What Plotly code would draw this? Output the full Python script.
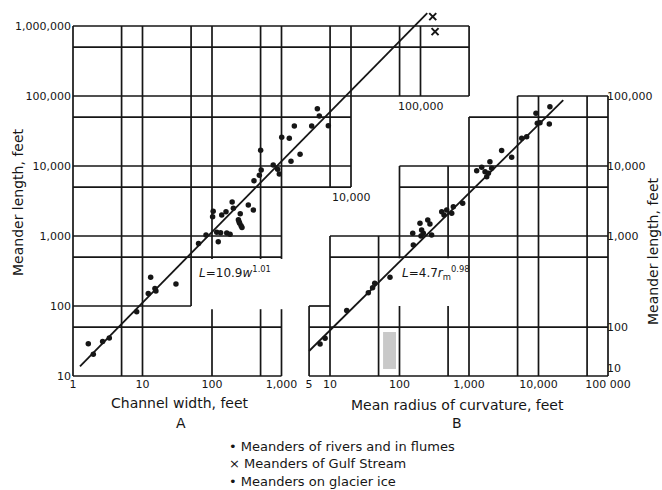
import math
import plotly.graph_objects as go

W, H = 662, 490
FONT = "DejaVu Sans"
INK = "#161616"

# ---- Panel A: meander length vs channel width ----
width_ft = [1.66, 1.96, 2.67, 3.33, 8.25, 13.1, 12.1, 15.1, 15.6, 30.3,
            64, 82, 123, 117, 133, 163, 182, 104, 102, 138, 159, 195, 203,
            255, 240, 245, 250, 262, 270, 333, 394, 402, 480, 510, 501,
            760, 880, 930, 1007, 1295, 1370, 1530, 1850, 2720, 3280, 3500, 4720]
lengthA_ft = [29, 20.4, 31, 35, 83, 257, 151, 178, 164, 206,
              780, 1030, 830, 1130, 1110, 1100, 1060, 2250, 1890, 2000, 2220, 3050, 2500,
              2080, 1700, 1600, 1520, 1400, 1320, 2770, 2350, 6150, 7400, 8800, 16800,
              10300, 9000, 7700, 25700, 24900, 11700, 37300, 14700, 37300, 65900, 51800, 37700]

# Gulf Stream meanders
gulf_width_ft = [150000, 162000]
gulf_length_ft = [1360000, 830000]

# ---- Panel B: meander length vs mean radius of curvature ----
radius_ft = [7.2, 8.5, 17.4, 35.6, 41, 44, 73, 158, 155, 204, 220, 290, 197,
             255, 208, 274, 405, 437, 478, 564, 595, 811, 1290, 1523, 1700,
             1800, 2000, 2120, 1900, 2950, 4110, 5730, 6760, 9200, 9610,
             10500, 14300, 14600]
lengthB_ft = [28.7, 34.6, 86, 155, 182, 211, 257, 743, 1094, 1000, 1094, 1033, 1517,
              1690, 1220, 1490, 2220, 2000, 2350, 2110, 2620, 2930, 8570, 9570, 8300,
              7030, 11500, 9270, 7870, 16600, 13300, 24900, 26200, 56600, 40700,
              41600, 39800, 70300]

# Fitted power laws L = c * x^k
coefA, expA = 10.9, 1.01
fitA_w = [1.26, 125000]
coefB, expB = 4.7, 0.98
fitB_r = [5, 22700]

# Axis tick labels
xA_ticks = [1, 10, 100, 1000]
xA_text = ["1", "10", "100", "1,000"]
xA_step_ticks = [(10000, 5000, "10,000"), (100000, 100000, "100,000")]
xB_ticks = [5, 10, 100, 1000, 10000, 100000]
xB_text = ["5", "10", "100", "1,000", "10,000", "100 000"]
yA_ticks = [10, 100, 1000, 10000, 100000, 1000000]
yA_text = ["10", "100", "1,000", "10,000", "100,000", "1,000,000"]
# right-hand scale labels sit on the rules they annotate
yB_ticks = [13, 50, 1000, 10000, 100000]
yB_text = ["10", "100", "1,000", "10,000", "100,000"]

# Ruled log paper, stepped: horizontal rules (y, x_from, x_to), vertical rules (x, y_from, y_to)
paperA_h = [(1e6, 1, 5e5), (5e5, 1, 5e5), (1e5, 1, 5e5), (5e4, 1, 1e4), (1e4, 1, 1e4),
            (5e3, 1, 1e4), (1e3, 1, 1e3), (500, 1, 1e3), (100, 1, 50), (50, 1, 1e3),
            (10, 1, 1e3)]
paperA_v = [(1, 10, 1e6), (5, 10, 1e6), (10, 10, 1e6), (50, 100, 1e6),
            (100, 470, 1e6), (500, 470, 1e6), (1000, 470, 1e6),
            (100, 10, 90), (500, 10, 90), (1000, 10, 90),
            (5000, 5000, 1e6), (1e4, 5000, 1e6), (5e4, 1e5, 1e6), (1e5, 1e5, 1e6),
            (5e5, 1e5, 1e6)]
paperB_h = [(1e5, 5000, 1e5), (5e4, 1000, 1e5), (1e4, 100, 1e5), (5e3, 100, 1e5),
            (1e3, 10, 1e5), (500, 10, 1e5), (100, 5, 10), (50, 5, 1e5), (10, 5, 1e5)]
paperB_v = [(5, 10, 100), (10, 10, 1000), (50, 10, 1000), (100, 480, 1e4),
            (500, 480, 1e4), (100, 10, 100), (500, 10, 100), (1000, 10, 5e4),
            (5000, 10, 1e5), (1e4, 10, 1e5), (5e4, 10, 1e5), (1e5, 10, 1e5)]

# shaded block on panel B (radius range, length range)
shade_r = [58, 89]
shade_L = [12.6, 42.5]

# pixel geometry of the two log scales
X0A, X0B, DEC = 73.0, 260.5, 69.5     # x pixel of 10^0, pixels per decade
Y10, DECY = 376.0, 70.0               # y pixel of L=10, pixels per decade


def rules(h, v):
    xs, ys = [], []
    for y, a, b in h:
        xs += [a, b, None]
        ys += [y, y, None]
    for x, a, b in v:
        xs += [x, x, None]
        ys += [a, b, None]
    return xs, ys


fig = go.Figure()
line_style = dict(color=INK, width=1.7)

xa, ya = rules(paperA_h, paperA_v)
fig.add_trace(go.Scatter(x=xa, y=ya, mode="lines", line=line_style,
                         xaxis="x", yaxis="y", hoverinfo="skip"))
xb, yb = rules(paperB_h, paperB_v)
fig.add_trace(go.Scatter(x=xb, y=yb, mode="lines", line=line_style,
                         xaxis="x2", yaxis="y2", hoverinfo="skip"))

fig.add_trace(go.Scatter(
    x=[shade_r[0], shade_r[1], shade_r[1], shade_r[0], shade_r[0]],
    y=[shade_L[0], shade_L[0], shade_L[1], shade_L[1], shade_L[0]],
    mode="lines", fill="toself", fillcolor="#c9c9c9", line=dict(width=0),
    xaxis="x2", yaxis="y2", hoverinfo="skip"))

# fitted lines
fig.add_trace(go.Scatter(x=fitA_w, y=[coefA * w ** expA for w in fitA_w], mode="lines",
                         line=dict(color=INK, width=1.8), xaxis="x", yaxis="y"))
fig.add_trace(go.Scatter(x=fitB_r, y=[coefB * r ** expB for r in fitB_r], mode="lines",
                         line=dict(color=INK, width=1.8), xaxis="x2", yaxis="y2"))

dot = dict(color=INK, size=5.5, symbol="circle")
fig.add_trace(go.Scatter(x=width_ft, y=lengthA_ft, mode="markers", marker=dot,
                         xaxis="x", yaxis="y", cliponaxis=False))
fig.add_trace(go.Scatter(x=gulf_width_ft, y=gulf_length_ft, mode="markers",
                         marker=dict(color=INK, size=7, symbol="x-thin",
                                     line=dict(color=INK, width=2)),
                         xaxis="x", yaxis="y", cliponaxis=False))
fig.add_trace(go.Scatter(x=radius_ft, y=lengthB_ft, mode="markers", marker=dot,
                         xaxis="x2", yaxis="y2", cliponaxis=False))

tickfont = dict(family=FONT, size=11, color=INK)
yrange = [1 - (H - Y10) / DECY, 1 + Y10 / DECY]
xpos = (H - Y10) / H
common = dict(type="log", showgrid=False, zeroline=False, showline=False,
              ticks="", tickfont=tickfont, domain=[0, 1])

fig.update_layout(
    width=W, height=H, margin=dict(l=0, r=0, t=0, b=0),
    paper_bgcolor="white", plot_bgcolor="white", showlegend=False,
    font=dict(family=FONT, size=14, color=INK),
    xaxis=dict(**common, range=[-X0A / DEC, (W - X0A) / DEC], anchor="free",
               position=xpos, tickvals=xA_ticks, ticktext=xA_text),
    xaxis2=dict(**common, range=[-X0B / DEC, (W - X0B) / DEC], anchor="free",
                position=xpos, overlaying="x", tickvals=xB_ticks, ticktext=xB_text),
    yaxis=dict(**common, range=yrange, anchor="free", position=X0A / W, side="left",
               tickvals=yA_ticks, ticktext=yA_text, ticklabelstandoff=2),
    yaxis2=dict(**common, range=yrange, anchor="free", position=606 / W, side="right",
                overlaying="y", tickvals=yB_ticks, ticktext=yB_text),
)


def P(xpix, ypix, xa="center", ya="middle"):
    return dict(x=xpix / W, y=1 - ypix / H, xref="paper", yref="paper",
                xanchor=xa, yanchor=ya, showarrow=False)


notes = []
for val, yv, txt in xA_step_ticks:
    notes.append(dict(x=math.log10(val), y=math.log10(yv), xref="x", yref="y",
                      text=txt, showarrow=False, yanchor="top", yshift=-2,
                      font=tickfont))
notes += [
    dict(**P(180, 403), text="Channel width, feet", font=dict(size=14)),
    dict(**P(181, 423), text="A", font=dict(size=14)),
    dict(**P(457, 405), text="Mean radius of curvature, feet", font=dict(size=14)),
    dict(**P(457, 423), text="B", font=dict(size=14)),
    dict(**P(18, 202), text="Meander length, feet", textangle=-90, font=dict(size=14)),
    dict(**P(653, 251), text="Meander length, feet", textangle=-90, font=dict(size=14)),
    dict(**P(197, 272, xa="left"), text=f"<i>L</i>={coefA}<i>w</i><sup>{expA}</sup>",
         font=dict(size=12)),
    dict(**P(400, 273, xa="left"),
         text=f"<i>L</i>={coefB}<i>r</i><sub>m</sub><sup>{expB}</sup>",
         font=dict(size=12)),
    dict(**P(227, 446, xa="left"), text="• Meanders of rivers and in flumes",
         font=dict(size=13)),
    dict(**P(227, 463, xa="left"), text="× Meanders of Gulf Stream", font=dict(size=13)),
    dict(**P(227, 481, xa="left"), text="• Meanders on glacier ice", font=dict(size=13)),
]
fig.update_layout(annotations=notes)

fig.write_html("out.html")
